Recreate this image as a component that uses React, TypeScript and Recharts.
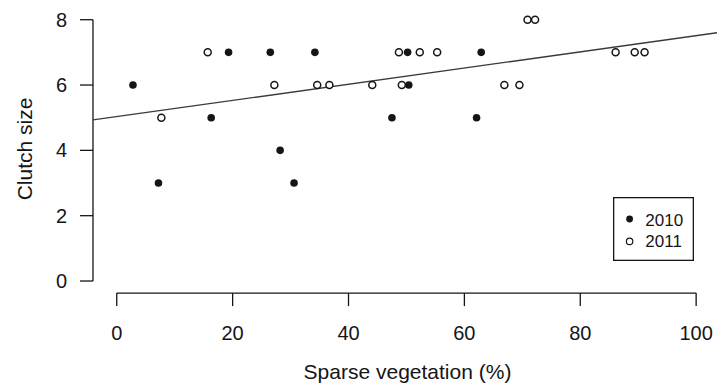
import { ScatterChart, Scatter, XAxis, YAxis, ReferenceLine, Legend, Label } from 'recharts';

// sparse vegetation (%) and clutch size
const x2010 = [2.8, 7.2, 16.3, 19.3, 26.5, 28.2, 30.6, 34.2, 47.5, 50.2, 50.4, 62.1, 62.9];
const y2010 = [6, 3, 5, 7, 7, 4, 3, 7, 5, 7, 6, 5, 7];
const x2011 = [7.7, 15.7, 27.2, 34.6, 36.7, 44.1, 48.7, 49.2, 52.3, 55.3, 66.9, 69.5, 70.9, 72.2, 86.1, 89.4, 91.1];
const y2011 = [5, 7, 6, 6, 6, 6, 7, 6, 7, 7, 6, 6, 8, 8, 7, 7, 7];

// fitted line end points (edge of plot region)
const fitX = [-4.1, 103.6];
const fitY = [4.93, 7.6];

const xTicks = [0, 20, 40, 60, 80, 100];
const yTicks = [0, 2, 4, 6, 8];
const years = ['2010', '2011'];

const data2010 = x2010.map((x, i) => ({ x, y: y2010[i] }));
const data2011 = x2011.map((x, i) => ({ x, y: y2011[i] }));

const FONT = '"Liberation Sans", Arial, Helvetica, sans-serif';
const INK = '#151515';

const FilledDot = (p: any) => <circle cx={p.cx} cy={p.cy} r={3.8} fill={INK} />;
const OpenDot = (p: any) => (
  <circle cx={p.cx} cy={p.cy} r={3.5} fill="#fff" stroke={INK} strokeWidth={1.5} />
);

const LegendBox = () => (
  <svg width={81} height={64} style={{ display: 'block' }}>
    <rect x={0.65} y={0.65} width={79.7} height={62.7} fill="#fff" stroke={INK} strokeWidth={1.3} />
    {years.map((yr, i) => (
      <g key={yr}>
        {i === 0 ? (
          <circle cx={16.6} cy={22 + i * 22.4} r={3.4} fill={INK} />
        ) : (
          <circle cx={16.6} cy={22 + i * 22.4} r={3.2} fill="#fff" stroke={INK} strokeWidth={1.2} />
        )}
        <text x={32.3} y={28.5 + i * 21.8} fontSize={17} fontFamily={FONT} fill={INK}>
          {yr}
        </text>
      </g>
    ))}
  </svg>
);

export default function App() {
  return (
    <div style={{ position: 'absolute', left: 0, top: 0, width: 717, height: 385, background: '#fff' }}>
      <ScatterChart width={717} height={385} margin={{ top: 9.9, right: 0, bottom: 0, left: 0 }}>
        <XAxis
          type="number"
          dataKey="x"
          domain={[-4.1, 103.6]}
          allowDataOverflow
          ticks={xTicks}
          interval={0}
          height={91.9}
          axisLine={false}
          tickSize={13}
          tickMargin={20}
          tickLine={{ stroke: INK, strokeWidth: 1.3 }}
          tick={{ fill: INK, fontSize: 20, fontFamily: FONT }}
        >
          <Label
            content={() => (
              <text x={407.5} y={379} textAnchor="middle" fontSize={21} fontFamily={FONT} fill={INK}>
                Sparse vegetation (%)
              </text>
            )}
          />
        </XAxis>
        <YAxis
          type="number"
          dataKey="y"
          domain={[-0.37, 8.3]}
          allowDataOverflow
          ticks={yTicks}
          interval={0}
          width={93}
          axisLine={false}
          tickSize={13}
          tickMargin={13}
          tickLine={{ stroke: INK, strokeWidth: 1.3 }}
          tick={{ fill: INK, fontSize: 20, fontFamily: FONT }}
        >
          <Label
            content={() => (
              <text
                x={31.5}
                y={149}
                transform="rotate(-90, 31.5, 149)"
                textAnchor="middle"
                fontSize={21}
                fontFamily={FONT}
                fill={INK}
              >
                Clutch size
              </text>
            )}
          />
        </YAxis>

        {/* axis lines only span the tick range, like base R */}
        <ReferenceLine
          segment={[{ x: xTicks[0], y: -0.37 }, { x: xTicks[xTicks.length - 1], y: -0.37 }]}
          stroke={INK}
          strokeWidth={1.3}
        />
        <ReferenceLine
          segment={[{ x: -4.1, y: yTicks[0] }, { x: -4.1, y: yTicks[yTicks.length - 1] }]}
          stroke={INK}
          strokeWidth={1.3}
        />

        <ReferenceLine
          segment={[{ x: fitX[0], y: fitY[0] }, { x: fitX[1], y: fitY[1] }]}
          stroke="#3a3a3a"
          strokeWidth={1.3}
        />

        <Scatter name="2011" data={data2011} shape={OpenDot} isAnimationActive={false} />
        <Scatter name="2010" data={data2010} shape={FilledDot} isAnimationActive={false} />

        <Legend
          layout="vertical"
          align="center"
          verticalAlign="middle"
          wrapperStyle={{ left: 612.7, top: 197.3, width: 81, height: 64 }}
          content={LegendBox}
        />
      </ScatterChart>
    </div>
  );
}
